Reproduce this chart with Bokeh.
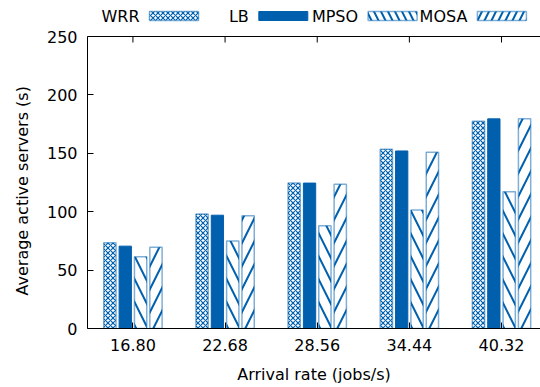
from bokeh.plotting import figure
from bokeh.models import Range1d, FixedTicker, LinearAxis, ColumnDataSource, Span, Title
from bokeh.core.properties import value
from bokeh.transform import dodge
from bokeh.embed import file_html
from bokeh.resources import INLINE

# Arrival rates (jobs/s) on the x axis
rates = ["16.80", "22.68", "28.56", "34.44", "40.32"]

# Average number of active servers per scheduling scheme
wrr = [73.5, 98, 124.5, 153.5, 177.5]
lb = [70.5, 97, 124.5, 152, 179.5]
mpso = [61.5, 75, 88, 101.5, 117]
mosa = [69.5, 96.5, 123.5, 151, 179.5]

series = ["WRR", "LB", "MPSO", "MOSA"]
y_ticks = [0, 50, 100, 150, 200, 250]
Y_MAX = 250

BLUE = "#0060ad"
FONT = "DejaVu Sans"
FS = "16px"

W, H = 540, 387
LEFT, BOTTOM, BOX_TOP = 87, 59, 36      # BOX_TOP: pixel row of the 250 border
X0, X1 = -0.493, 4.423

# the frame runs to the top of the page so the key can sit above the box
frame_h = H - BOTTOM
px_per_y = (frame_h - BOX_TOP) / Y_MAX
Y_TOP = frame_h / px_per_y
px_per_x = (W - LEFT) / (X1 - X0)


def to_x(px):
    return X0 + (px - LEFT) / px_per_x


def to_y(py):
    return (frame_h - py) / px_per_y


idx = list(range(len(rates)))
source = ColumnDataSource(dict(idx=idx, WRR=wrr, LB=lb, MPSO=mpso, MOSA=mosa))

styles = {
    "WRR": dict(fill_color="white", hatch_pattern="x", hatch_scale=5,
                hatch_weight=1.2, hatch_color=BLUE,
                line_color=BLUE, line_alpha=0.5, line_width=1.5),
    "LB": dict(fill_color=BLUE, line_color=BLUE, line_width=1),
    "MPSO": dict(fill_color="white", hatch_pattern="\\", hatch_scale=23,
                 hatch_weight=2, hatch_color=BLUE,
                 line_color=BLUE, line_alpha=0.5, line_width=1.5),
    "MOSA": dict(fill_color="white", hatch_pattern="/", hatch_scale=23,
                 hatch_weight=2, hatch_color=BLUE,
                 line_color=BLUE, line_alpha=0.5, line_width=1.5),
}

p = figure(width=W, height=H, output_backend="svg", toolbar_location=None,
           x_range=Range1d(X0, X1), y_range=Range1d(0, Y_TOP),
           min_border_left=LEFT, min_border_right=0,
           min_border_top=0, min_border_bottom=BOTTOM,
           x_axis_location=None, y_axis_location=None)
p.outline_line_color = None
p.grid.visible = False

# one slot per series inside each cluster (gap of two slots), box width 0.8
slot = 1.0 / 6.0
bar_w = 0.8 * slot
for i, name in enumerate(series):
    p.vbar(x=dodge("idx", (i - 1.5) * slot, range=p.x_range), top=name,
           width=bar_w, bottom=0, source=source, **styles[name])

tick_kw = dict(major_tick_in=6, major_tick_out=0, minor_tick_line_color=None,
               axis_line_color="black", major_tick_line_color="black",
               axis_line_width=1)
label_kw = dict(major_label_text_font=FONT, major_label_text_font_size=FS,
                major_label_text_color="black")

xaxis = LinearAxis(ticker=FixedTicker(ticks=idx),
                   major_label_overrides={i: r for i, r in enumerate(rates)},
                   axis_label="Arrival rate (jobs/s)",
                   axis_label_text_font=FONT, axis_label_text_font_size=FS,
                   axis_label_text_font_style="normal",
                   axis_label_text_color="black",
                   axis_label_standoff=11, major_label_standoff=10,
                   **tick_kw, **label_kw)
p.add_layout(xaxis, "below")

yaxis = LinearAxis(ticker=FixedTicker(ticks=y_ticks), bounds=(0, Y_MAX),
                   major_label_standoff=10, **tick_kw, **label_kw)
p.add_layout(yaxis, "left")

# y title, anchored from the bottom of the frame so it centres on the 0-250 box
p.add_layout(Title(text="Average active servers (s)", align="left", offset=33,
                   vertical_align="top", standoff=20,
                   text_font=FONT, text_font_size=FS, text_font_style="normal",
                   text_color="black"), "left")

# top border of the box at 250, with mirrored category ticks
p.add_layout(Span(location=Y_MAX, dimension="width", line_color="black", line_width=1))
p.segment(x0=idx, x1=idx, y0=[Y_MAX] * len(idx), y1=[Y_MAX - 6 / px_per_y] * len(idx),
          line_color="black", line_width=1)

# key above the box: label, then its swatch
key_left, key_pitch, key_w, key_top, key_h = 149, 109.3, 49, 11, 9
for i, name in enumerate(series):
    sx = key_left + i * key_pitch
    st = dict(styles[name])
    if "hatch_scale" in st:
        st["hatch_scale"] = min(st["hatch_scale"], 14)
    p.quad(left=[to_x(sx)], right=[to_x(sx + key_w)],
           top=[to_y(key_top)], bottom=[to_y(key_top + key_h)], **st)
    p.text(x=[to_x(sx - 10)], y=[to_y(key_top + key_h / 2 + 0.5)], text=[name],
           text_align="right", text_baseline="middle",
           text_font=value(FONT), text_font_size=FS, text_color="black")

open("out.html", "w").write(file_html(p, INLINE))
